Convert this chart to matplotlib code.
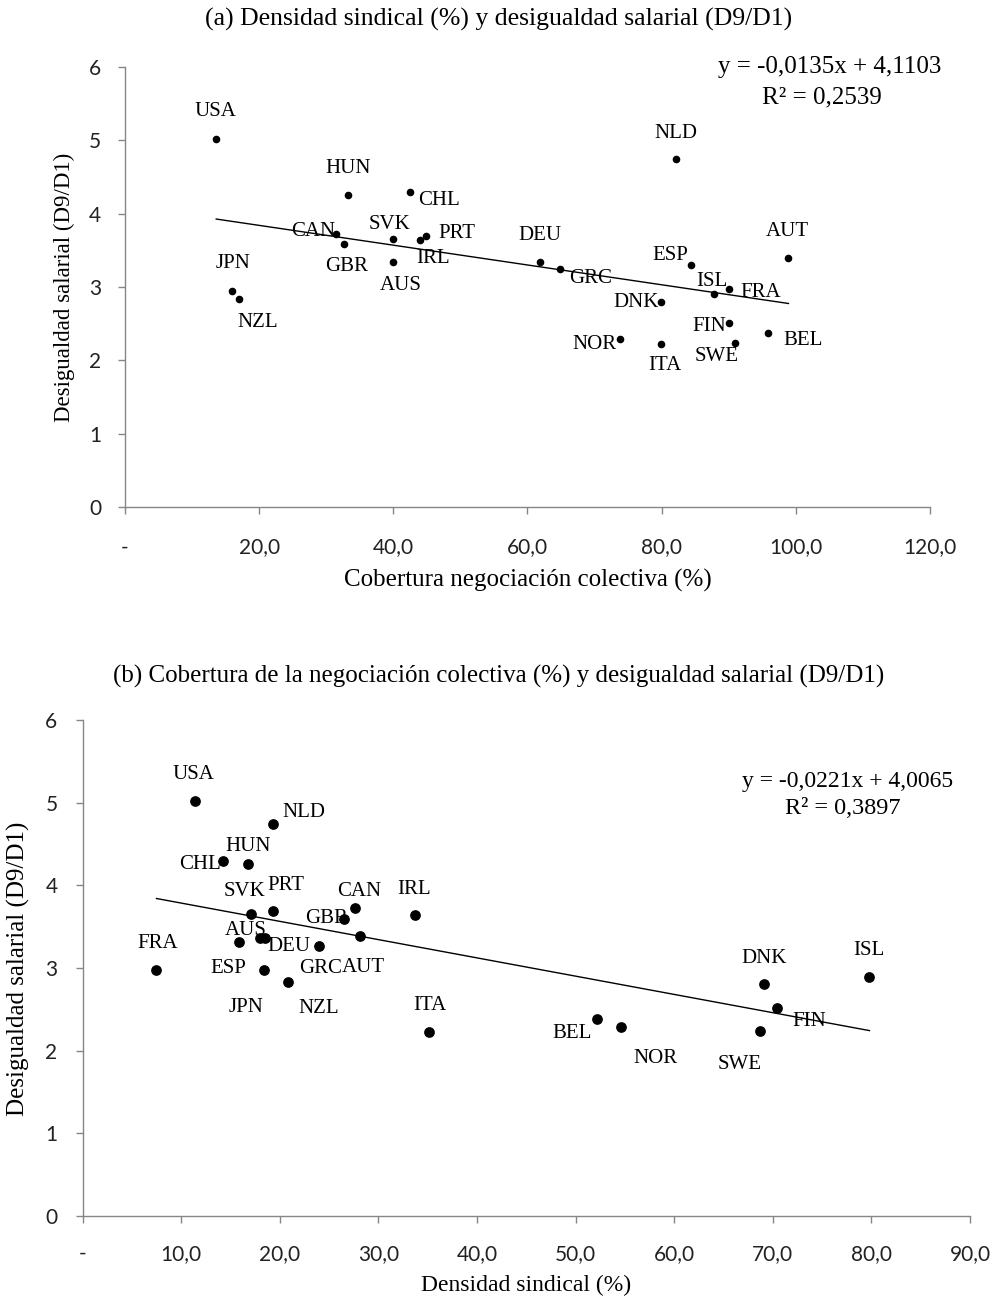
import matplotlib
matplotlib.use("Agg")
import matplotlib.pyplot as plt
import numpy as np

# ---------- Data: panel (a) ----------
countries_a = ["USA", "HUN", "CHL", "CAN", "GBR", "SVK", "IRL", "PRT", "AUS", "JPN", "NZL",
               "DEU", "GRC", "NLD", "ESP", "ISL", "FRA", "DNK", "AUT", "FIN", "BEL", "NOR",
               "ITA", "SWE"]
coverage_a = [13.6, 33.3, 42.5, 31.5, 32.6, 40.0, 44.0, 44.9, 40.0, 15.9, 17.0,
              61.9, 64.9, 82.1, 84.3, 87.8, 90.0, 79.9, 98.9, 90.0, 95.8, 73.8,
              79.9, 90.9]
ineq_a = [5.02, 4.26, 4.30, 3.72, 3.59, 3.65, 3.64, 3.69, 3.34, 2.95, 2.83,
          3.34, 3.25, 4.74, 3.30, 2.90, 2.97, 2.80, 3.39, 2.51, 2.37, 2.29,
          2.22, 2.23]
slope_a, intercept_a = -0.0135, 4.1103
eq_a = ["y = -0,0135x + 4,1103", "R² = 0,2539"]

# ---------- Data: panel (b) ----------
countries_b = ["USA", "NLD", "CHL", "HUN", "CAN", "PRT", "SVK", "IRL", "GBR", "AUT",
               "DEU", "AUS", "ESP", "GRC", "FRA", "JPN", "NZL", "ITA", "BEL", "NOR",
               "DNK", "FIN", "SWE", "ISL"]
density_b = [11.4, 19.3, 14.2, 16.8, 27.6, 19.3, 17.1, 33.7, 26.5, 28.1,
             18.5, 18.0, 15.9, 24.0, 7.5, 18.4, 20.8, 35.1, 52.2, 54.6,
             69.1, 70.4, 68.7, 79.8]
ineq_b = [5.02, 4.74, 4.30, 4.26, 3.72, 3.69, 3.65, 3.64, 3.59, 3.39,
          3.36, 3.36, 3.31, 3.27, 2.98, 2.97, 2.83, 2.22, 2.38, 2.29,
          2.81, 2.52, 2.24, 2.89]
slope_b, intercept_b = -0.0221, 4.0065
eq_b = ["y = -0,0221x + 4,0065", "R² = 0,3897"]

xticks_a = [0, 20, 40, 60, 80, 100, 120]
xticklabels_a = ["-", "20,0", "40,0", "60,0", "80,0", "100,0", "120,0"]
xticks_b = [0, 10, 20, 30, 40, 50, 60, 70, 80, 90]
xticklabels_b = ["-", "10,0", "20,0", "30,0", "40,0", "50,0", "60,0", "70,0", "80,0", "90,0"]
yticks = [0, 1, 2, 3, 4, 5, 6]

# label offsets (pixels, image-down positive dy)
offs_a = {"USA": (-1, -27), "HUN": (0, -26), "CHL": (29, 9), "CAN": (-23, -3),
          "GBR": (3, 23), "SVK": (-4, -15), "PRT": (31, -3), "IRL": (13, 18),
          "AUS": (7, 23), "JPN": (1, -27), "NZL": (19, 23), "DEU": (0, -27),
          "GRC": (30, 10), "NLD": (0, -26), "ESP": (-20, -10), "ISL": (-2, -13),
          "FRA": (32, 3), "DNK": (-25, 1), "AUT": (-1, -27), "FIN": (-19, 4),
          "BEL": (35, 7), "NOR": (-26, 5), "ITA": (4, 21), "SWE": (-18, 13)}
offs_b = {"USA": (-1, -27), "NLD": (31, -12), "HUN": (0, -17), "CHL": (-23, 4),
          "SVK": (-7, -23), "PRT": (13, -25), "CAN": (5, -17), "GBR": (-17, -1),
          "IRL": (-1, -26), "AUS": (-14, -8), "DEU": (24, 8), "ESP": (-11, 26),
          "GRC": (1, 23), "AUT": (4, 32), "FRA": (1, -26), "JPN": (-18, 37),
          "NZL": (31, 26), "ITA": (1, -27), "BEL": (-25, 14), "NOR": (35, 32),
          "DNK": (0, -25), "FIN": (33, 14), "SWE": (-20, 34), "ISL": (-1, -27)}

SERIF = "Liberation Serif"
SANS = "Lato"
GRAY = "#868686"

fig = plt.figure(figsize=(9.98, 13), dpi=100)
W, H = 998, 1300

def make_ax(l, r, t, b):
    return fig.add_axes([l / W, (H - b) / H, (r - l) / W, (b - t) / H])

def fx(px):
    return px / W

def fy(py):
    return 1 - py / H

def style(ax, xpad, ypad):
    for s in ["top", "right"]:
        ax.spines[s].set_visible(False)
    for s in ["left", "bottom"]:
        ax.spines[s].set_color(GRAY)
        ax.spines[s].set_linewidth(1)
    ax.tick_params(axis="both", color=GRAY, length=5, width=1, direction="out",
                   labelsize=15, labelcolor="#222222")
    ax.tick_params(axis="x", pad=xpad)
    ax.tick_params(axis="y", pad=ypad)
    for lab in ax.get_xticklabels() + ax.get_yticklabels():
        lab.set_fontfamily(SANS)

# ---------- Panel (a) ----------
ax1 = make_ax(125, 930, 67, 507)
ax1.scatter(coverage_a, ineq_a, s=20, color="black", zorder=3)
xa = np.array([min(coverage_a), max(coverage_a)])
ax1.plot(xa, slope_a * xa + intercept_a, color="black", lw=1)
for c, x, y in zip(countries_a, coverage_a, ineq_a):
    dx, dy = offs_a[c]
    ax1.annotate(c, (x, y), xytext=(dx, -dy), textcoords="offset pixels",
                 ha="center", va="center", fontsize=15, family=SERIF)
ax1.set_xlim(0, 120)
ax1.set_ylim(0, 6)
ax1.set_xticks(xticks_a, xticklabels_a)
ax1.set_yticks(yticks)
style(ax1, xpad=17, ypad=12)
ax1.set_xlabel("Cobertura negociación colectiva (%)", family=SERIF, fontsize=18, va="center")
ax1.xaxis.set_label_coords(fx(528), fy(580), transform=fig.transFigure)
ax1.set_ylabel("Desigualdad salarial (D9/D1)", family=SERIF, fontsize=16.5, va="center")
ax1.yaxis.set_label_coords(fx(64), fy(287), transform=fig.transFigure)
fig.text(fx(941), fy(67), eq_a[0], ha="right", va="center", family=SERIF, fontsize=18)
fig.text(fx(822), fy(97), eq_a[1], ha="center", va="center", family=SERIF, fontsize=18)
fig.text(fx(499), fy(19), "(a) Densidad sindical (%) y desigualdad salarial (D9/D1)",
         ha="center", va="center", family=SERIF, fontsize=18.5)

# ---------- Panel (b) ----------
ax2 = make_ax(82.5, 970, 720, 1216)
ax2.scatter(density_b, ineq_b, s=45, color="black", zorder=3)
xb = np.array([min(density_b), max(density_b)])
ax2.plot(xb, slope_b * xb + intercept_b, color="black", lw=1)
for c, x, y in zip(countries_b, density_b, ineq_b):
    dx, dy = offs_b[c]
    ax2.annotate(c, (x, y), xytext=(dx, -dy), textcoords="offset pixels",
                 ha="center", va="center", fontsize=15, family=SERIF)
ax2.set_xlim(0, 90)
ax2.set_ylim(0, 6)
ax2.set_xticks(xticks_b, xticklabels_b)
ax2.set_yticks(yticks)
style(ax2, xpad=15, ypad=13)
ax2.set_xlabel("Densidad sindical (%)", family=SERIF, fontsize=17, va="center")
ax2.xaxis.set_label_coords(fx(526), fy(1285), transform=fig.transFigure)
ax2.set_ylabel("Desigualdad salarial (D9/D1)", family=SERIF, fontsize=18, va="center")
ax2.yaxis.set_label_coords(fx(18), fy(969), transform=fig.transFigure)
fig.text(fx(953), fy(782), eq_b[0], ha="right", va="center", family=SERIF, fontsize=17)
fig.text(fx(843), fy(808), eq_b[1], ha="center", va="center", family=SERIF, fontsize=17.5)
fig.text(fx(499), fy(676),
         "(b) Cobertura de la negociación colectiva (%) y desigualdad salarial (D9/D1)",
         ha="center", va="center", family=SERIF, fontsize=18)

fig.savefig("out.png", dpi=100)
